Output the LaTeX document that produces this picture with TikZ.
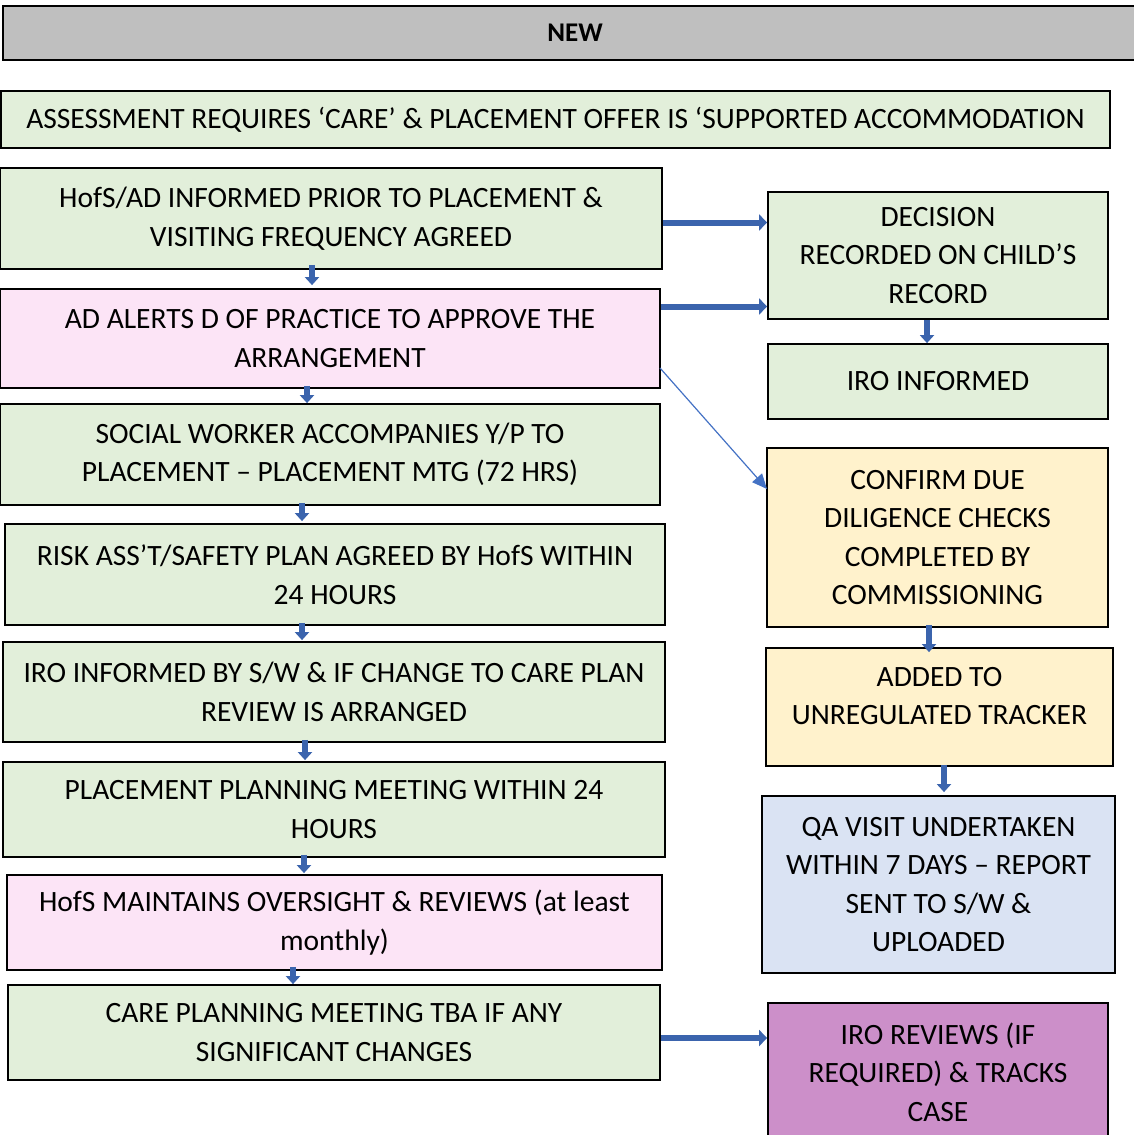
\documentclass[tikz,border=0pt]{standalone}
\usepackage{fontspec}
\setmainfont{Carlito}
\usetikzlibrary{arrows.meta}
\definecolor{bgreen}{HTML}{E2EFDA}
\definecolor{bpink}{HTML}{FCE4F6}
\definecolor{byellow}{HTML}{FFF2CC}
\definecolor{bblue}{HTML}{DAE3F3}
\definecolor{bpurple}{HTML}{CC8FC9}
\definecolor{bgray}{HTML}{BFBFBF}
\definecolor{arrblue}{HTML}{3B64AD}
\definecolor{thinblue}{HTML}{4472C4}
\tikzset{
  box/.style={draw=black, line width=1.8pt, rectangle, inner sep=0pt, align=center,
    font=\fontsize{29.5}{38.5}\selectfont},
  greenbox/.style={box, fill=bgreen},
  pinkbox/.style={box, fill=bpink},
  yellowbox/.style={box, fill=byellow},
  bluebox/.style={box, fill=bblue},
  purplebox/.style={box, fill=bpurple},
  bigarrow/.style={draw=arrblue, line width=6pt, -{Triangle[width=16pt,length=8pt]}},
  smallarrow/.style={draw=arrblue, line width=5.5pt, -{Triangle[width=14pt,length=8pt]}},
  thinarrow/.style={draw=thinblue, line width=1.2pt, -{Triangle[width=13pt,length=15pt]}}
}
\begin{document}
\begin{tikzpicture}[x=1pt,y=-1pt]
\useasboundingbox (0,0) rectangle (1133,1135);
\node[box, fill=bgray, minimum width=1144pt, minimum height=54pt, font=\fontsize{27}{32}\selectfont\bfseries] (new) at (575,33) {NEW};
\node[greenbox, minimum width=1109pt, minimum height=57pt] (assess) at (555.5,119.5) {ASSESSMENT REQUIRES ‘CARE’ \& PLACEMENT OFFER IS ‘SUPPORTED ACCOMMODATION};
% left column
\node[greenbox, minimum width=662pt, minimum height=101pt] (b1) at (331,218.5) {HofS/AD INFORMED PRIOR TO PLACEMENT \&\\VISITING FREQUENCY AGREED};
\node[pinkbox, minimum width=660pt, minimum height=99pt] (b2) at (330,338.5) {AD ALERTS D OF PRACTICE TO APPROVE THE\\ARRANGEMENT};
\node[greenbox, minimum width=660pt, minimum height=101pt] (b3) at (330,454.5) {SOCIAL WORKER ACCOMPANIES Y/P TO\\PLACEMENT – PLACEMENT MTG (72 HRS)};
\node[greenbox, minimum width=660pt, minimum height=101pt] (b4) at (335,574.5) {RISK ASS’T/SAFETY PLAN AGREED BY HofS WITHIN\\24 HOURS};
\node[greenbox, minimum width=662pt, minimum height=100pt] (b5) at (334,692) {IRO INFORMED BY S/W \& IF CHANGE TO CARE PLAN\\REVIEW IS ARRANGED};
\node[greenbox, minimum width=662pt, minimum height=95pt] (b6) at (334,809.5) {PLACEMENT PLANNING MEETING WITHIN 24\\HOURS};
\node[pinkbox, minimum width=655pt, minimum height=95pt] (b7) at (334.5,922.5) {HofS MAINTAINS OVERSIGHT \& REVIEWS (at least\\monthly)};
\node[greenbox, minimum width=652pt, minimum height=95pt] (b8) at (334,1032.5) {CARE PLANNING MEETING TBA IF ANY\\SIGNIFICANT CHANGES};
% right column
\node[greenbox, minimum width=340pt, minimum height=127pt] (ra) at (938,255.5) {DECISION\\RECORDED ON CHILD’S\\RECORD};
\node[greenbox, minimum width=340pt, minimum height=75pt] (rb) at (938,381.5) {IRO INFORMED};
\node[yellowbox, minimum width=341pt, minimum height=179pt] (rc) at (937.5,537.5) {CONFIRM DUE\\DILIGENCE CHECKS\\COMPLETED BY\\COMMISSIONING};
\node[yellowbox, minimum width=347pt, minimum height=118pt, text depth=22pt] (rd) at (939.5,707) {ADDED TO\\UNREGULATED TRACKER};
\node[bluebox, minimum width=353pt, minimum height=177pt] (re) at (938.5,884.5) {QA VISIT UNDERTAKEN\\WITHIN 7 DAYS – REPORT\\SENT TO S/W \&\\UPLOADED};
\node[purplebox, minimum width=340pt, minimum height=138pt] (rf) at (938,1072) {IRO REVIEWS (IF\\REQUIRED) \& TRACKS\\CASE};
% helper coordinates
\coordinate (h1) at (0,222.5);
\coordinate (h2) at (0,306.5);
\coordinate (h3) at (0,1038);
\coordinate (d1) at (660,368);
\coordinate (d2) at (767,489);
% horizontal arrows
\draw[bigarrow] (b1.east |- h1) -- (ra.west |- h1);
\draw[bigarrow] (b2.east |- h2) -- (ra.west |- h2);
\draw[bigarrow] (b8.east |- h3) -- (rf.west |- h3);
% diagonal
\draw[thinarrow] (d1) -- (d2);
% vertical small arrows
\coordinate (v1) at (312,0);
\coordinate (v2) at (307,0);
\coordinate (v3) at (302,0);
\coordinate (v4) at (302,0);
\coordinate (v5) at (305,0);
\coordinate (v6) at (304,0);
\coordinate (v7) at (293,0);
\coordinate (v8) at (927,0);
\coordinate (v9) at (929,0);
\coordinate (v10) at (944,0);
\draw[smallarrow] ([yshift=5pt]b1.south -| v1) -- ([yshift=3pt]b2.north -| v1);
\draw[smallarrow] ([yshift=3pt]b2.south -| v2) -- ([yshift=0pt]b3.north -| v2);
\draw[smallarrow] ([yshift=3pt]b3.south -| v3) -- ([yshift=2pt]b4.north -| v3);
\draw[smallarrow] ([yshift=3pt]b4.south -| v4) -- ([yshift=1pt]b5.north -| v4);
\draw[smallarrow] ([yshift=3pt]b5.south -| v5) -- ([yshift=1pt]b6.north -| v5);
\draw[smallarrow] ([yshift=3pt]b6.south -| v6) -- ([yshift=1pt]b7.north -| v6);
\draw[smallarrow] ([yshift=4pt]b7.south -| v7) -- ([yshift=0pt]b8.north -| v7);
\draw[smallarrow] ([yshift=0pt]ra.south -| v8) -- ([yshift=0pt]rb.north -| v8);
\draw[smallarrow] ([yshift=3pt]rc.south -| v9) -- ([yshift=-5pt]rd.north -| v9);
\draw[smallarrow] ([yshift=2pt]rd.south -| v10) -- ([yshift=3pt]re.north -| v10);
\end{tikzpicture}
\end{document}
